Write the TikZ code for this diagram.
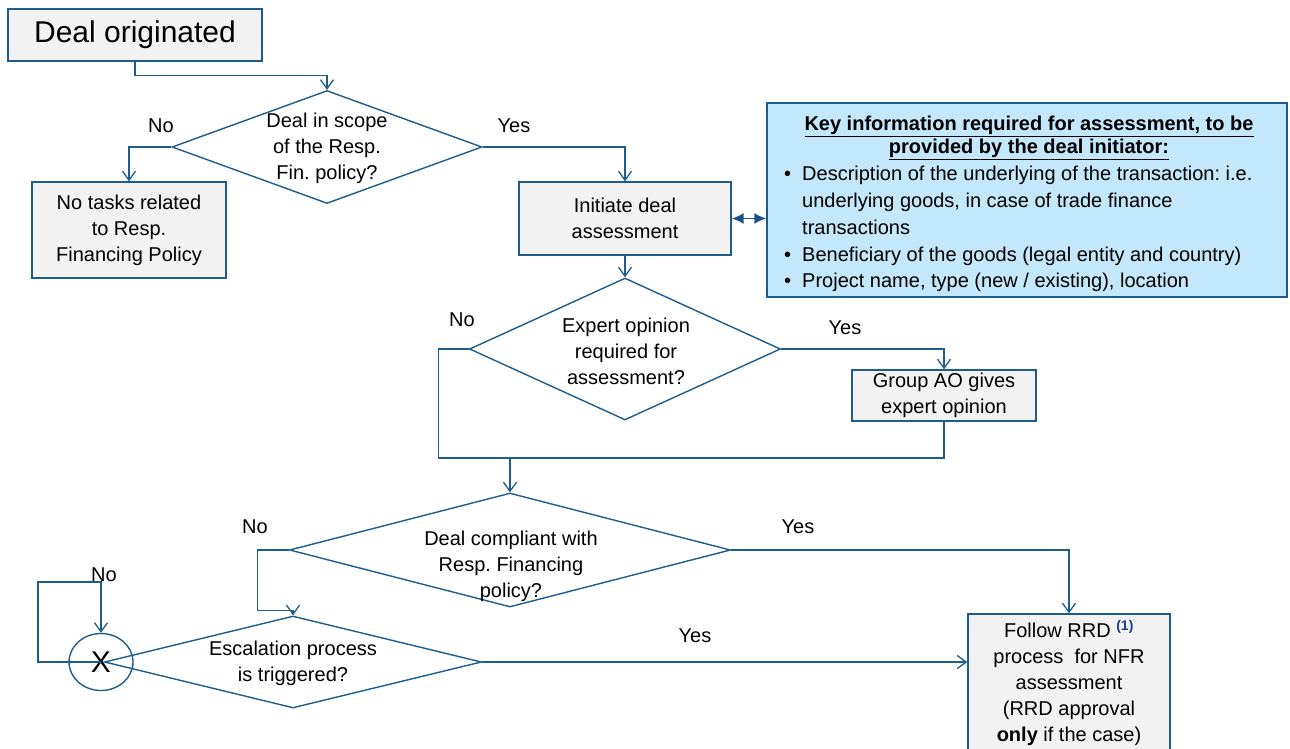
\documentclass[tikz,border=0pt]{standalone}
\usepackage{fontspec}
\setmainfont{Liberation Sans}
\usepackage{xcolor}
\usepackage{tikz}
\usetikzlibrary{shapes.geometric, arrows.meta, positioning, calc}

\definecolor{flowblue}{HTML}{1F5C8E}
\definecolor{keyfill}{HTML}{C3E8FB}
\definecolor{boxgray}{HTML}{F2F2F2}
\definecolor{supblue}{HTML}{1F3C88}
\frenchspacing

\begin{document}
\begin{tikzpicture}[
    x=1pt, y=-1pt,
    every node/.style={font=\fontsize{20}{26}\selectfont},
    task/.style={draw=flowblue, line width=1.4pt, fill=boxgray, align=center, inner sep=0pt},
    decision/.style={diamond, draw=flowblue, line width=1.4pt, inner sep=0pt},
    qtext/.style={align=center, inner sep=0pt},
    answer/.style={inner sep=0pt},
    keybox/.style={draw=flowblue, line width=1.4pt, fill=keyfill, minimum width=520pt, minimum height=194pt},
    flow/.style={draw=flowblue, line width=1.3pt, -{Straight Barb[length=9pt, width=13pt]}},
    link/.style={draw=flowblue, line width=1.3pt},
    dflow/.style={draw=flowblue!90!black, line width=1.6pt, {Latex[length=12pt, width=11pt]}-{Latex[length=12pt, width=11pt]}},
]
    \useasboundingbox (0,0) rectangle (1290,748);

    % start
    \node[task, minimum width=254pt, minimum height=52pt, font=\fontsize{30}{34}\selectfont] (orig) at (135,35) {Deal originated};

    % scope check
    \node[decision, minimum width=310pt, minimum height=113pt] (d1) at (327,147) {};
    \node[qtext] (d1t) at (327,148) {Deal in scope\\of the Resp.\\Fin. policy?};
    \node[task, minimum width=194pt, minimum height=96pt] (notask) at (129,230) {No tasks related\\to Resp.\\Financing Policy};
    \node[task, minimum width=212pt, minimum height=73pt] (init) at (625,218.5) {Initiate deal\\assessment};

    % key information
    \node[keybox] (key) at (1027,200) {};
    \node[qtext, font=\fontsize{20}{23}\selectfont\bfseries] (keyhead) at (1029,138) {\underline{Key information required for assessment, to be}\\\underline{provided by the deal initiator:}};
    \node[answer, anchor=west, font=\fontsize{20}{26.75}\selectfont] (keylist) at (784,229) {%
        \begin{tabular}{@{}l@{\hspace{11pt}}l@{}}
        \textbullet & Description of the underlying of the transaction: i.e.\\
                    & underlying goods, in case of trade finance\\
                    & transactions\\
        \textbullet & Beneficiary of the goods (legal entity and country)\\
        \textbullet & Project name, type (new / existing), location
        \end{tabular}};

    % expert opinion
    \node[decision, minimum width=311pt, minimum height=142pt] (d2) at (625,349) {};
    \node[qtext] (d2t) at (626,351) {Expert opinion\\required for\\assessment?};
    \node[task, minimum width=184pt, minimum height=51pt] (ao) at (944,395.5) {Group AO gives\\expert opinion};
    \coordinate (merge) at (510,458);

    % compliance
    \node[decision, minimum width=441pt, minimum height=114pt] (d3) at (510,550) {};
    \node[qtext] (d3t) at (511,566) {Deal compliant with\\Resp. Financing\\policy?};

    % escalation
    \node[decision, minimum width=377pt, minimum height=92pt] (d4) at (293,662) {};
    \node[qtext] (d4t) at (293,663) {Escalation process\\is triggered?};
    \node[ellipse, draw=flowblue, line width=1.4pt, minimum width=64pt, minimum height=57pt, inner sep=0pt, font=\fontsize{30}{30}\selectfont] (esc) at (101,662) {X};

    \node[task, minimum width=202pt, minimum height=138pt] (follow) at (1069,683) {Follow RRD \textsuperscript{\bfseries\color{supblue}(1)}\\process\ \ for NFR\\assessment\\(RRD approval\\\textbf{only} if the case)};

    % connectors
    \draw[flow] (orig.south) -- ++(0,14) -| (d1.north);
    \draw[flow] (d1.west) -| (notask.north);
    \draw[flow] (d1.east) -| (init.north);
    \draw[dflow] (init.east) -- (init.east -| key.west);
    \draw[flow] (init.south) -- (d2.north);
    \draw[link] (d2.west) -| ($(d2.west)+(-30,109)$) -| (ao.south);
    \draw[flow] (d2.east) -| (ao.north);
    \draw[flow] (merge) -- (d3.north);
    \draw[flow] (d3.west) -- ++(-31,0) |- ($(d4.north)+(0,-5)$) -- (d4.north);
    \draw[flow] (d3.east) -| (follow.north);
    \draw[flow] (d4.east) -- (d4.east -| follow.west);
    \draw[flow] (esc.center) -- ++(-63,0) -- ++(0,-80) -| (esc.north);

    % answers
    \node[answer] (no1) at (161,126) {No};
    \node[answer] (yes1) at (514,126) {Yes};
    \node[answer] (no2) at (462,320) {No};
    \node[answer] (yes2) at (845,328) {Yes};
    \node[answer] (no3) at (255,527) {No};
    \node[answer] (yes3) at (798,527) {Yes};
    \node[answer] (no4) at (104,575) {No};
    \node[answer] (yes4) at (695,636) {Yes};
\end{tikzpicture}
\end{document}
